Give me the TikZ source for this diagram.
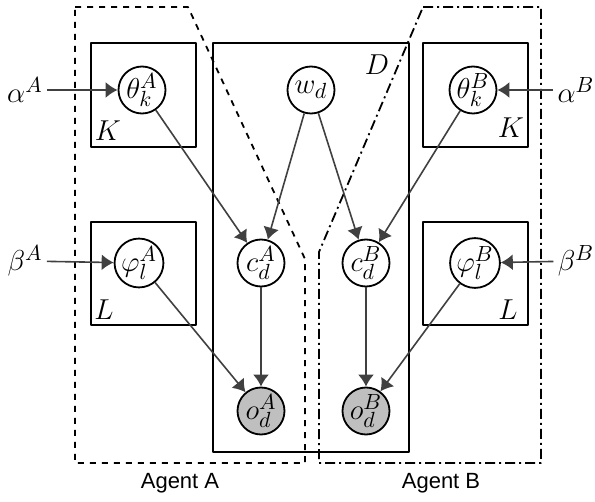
\documentclass[tikz,border=0pt]{standalone}
\usepackage{fontspec}
\newfontfamily\agentfont{Liberation Sans}
\usetikzlibrary{arrows.meta}
\begin{document}
\begin{tikzpicture}[x=0.5pt, y=-0.5pt, line join=round, font=\fontsize{15}{17}\selectfont,
	>={Latex[length=6pt,width=8pt]},
	latent/.style={circle, draw, line width=0.9pt, minimum size=23.5pt, inner sep=0pt},
	obs/.style={latent, fill=black!25},
	plate/.style={draw, line width=0.9pt},
	hyper/.style={inner sep=2pt},
	edge/.style={->, draw=black!75, line width=0.8pt}]
		\useasboundingbox (0,0) rectangle (595,502);
		% plates
		\draw[plate]
		(91,43) rectangle (196,147) (91,222) rectangle (196,325)
		(213,43) rectangle (409,452)
		(423,43) rectangle (528,147) (423,222) rectangle (528,325);
		\path
		(108,131) node{$K$} (104,310) node{$L$} (377,65) node{$D$}
		(511,128) node{$K$} (508,310) node{$L$};
		% agents
		\draw[dashed, line width=0.9pt]
		(75,7)--(188,7)--(305,259)--(305,463)--(75,463)--cycle;
		\draw[dash pattern=on 5pt off 2pt on 1pt off 2pt, line width=0.9pt]
		(423,7)--(541,7)--(541,463)--(319,463)--(319,252)--cycle;
		\path[font={\agentfont\fontsize{11}{13}\selectfont}]
		(180,483) node{Agent A} (441,483) node{Agent B};
		% variables
		\node[latent] (thA) at (142,90) {$\theta_k^A$};
		\node[latent] (phA) at (139,263) {$\varphi_l^A$};
		\node[latent] (w) at (311,90) {$w_d$};
		\node[latent] (cA) at (261,263) {$c_d^A$};
		\node[latent] (cB) at (366,263) {$c_d^B$};
		\node[obs] (oA) at (261,411) {$o_d^A$};
		\node[obs] (oB) at (366,411) {$o_d^B$};
		\node[latent] (thB) at (473,90) {$\theta_k^B$};
		\node[latent] (phB) at (475,263) {$\varphi_l^B$};
		\path
		(25,90) node[hyper] (alA) {$\alpha^A$} (25,261) node[hyper] (beA) {$\beta^A$}
		(576,90) node[hyper] (alB) {$\alpha^B$} (576,261) node[hyper] (beB) {$\beta^B$};
		\foreach \a/\b in {alA/thA,beA/phA,alB/thB,beB/phB,thA/cA,w/cA,w/cB,thB/cB,cA/oA,phA/oA,cB/oB,phB/oB}
		\draw[edge] (\a)--(\b);
		\end{tikzpicture}
\end{document}
